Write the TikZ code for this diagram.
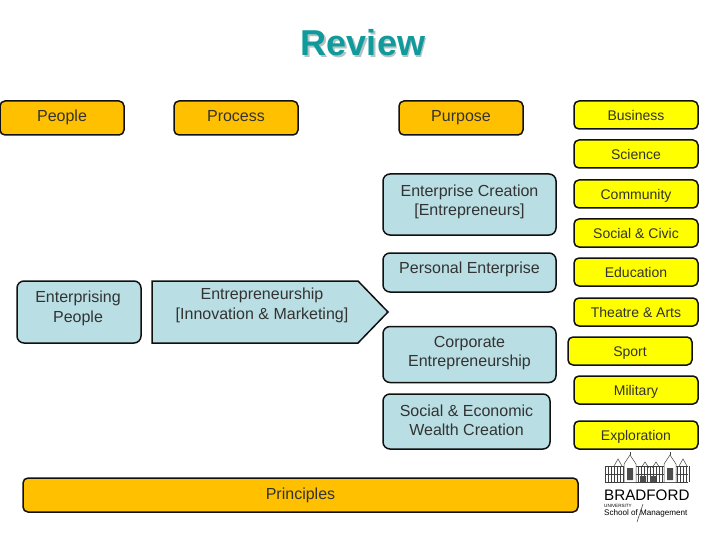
\documentclass[tikz,border=0pt]{standalone}
\usepackage{fontspec}
\setmainfont{Liberation Sans}
\definecolor{orangebox}{HTML}{FFC000}
\definecolor{yellowbox}{HTML}{FFFF00}
\definecolor{bluebox}{HTML}{B9DEE3}
\definecolor{teal}{HTML}{109A9C}
\definecolor{titleshadow}{HTML}{B4C4C4}
\definecolor{linecol}{HTML}{101010}
\tikzset{
  base/.style={draw=linecol,line width=1.5pt,rounded corners=5pt,inner sep=0pt,align=center,text=black!80,anchor=center},
  orangeb/.style={base,fill=orangebox,font=\fontsize{16}{19}\selectfont,minimum width=124pt,minimum height=34pt,text height=12pt,text depth=4pt},
  yellowb/.style={base,fill=yellowbox,font=\fontsize{14}{17}\selectfont,minimum width=124pt,minimum height=28pt,text height=11.5pt,text depth=0.5pt},
  blueb/.style={base,fill=bluebox,rounded corners=7pt,minimum width=173pt},
  arrowb/.style={draw=linecol,line width=1.5pt,fill=bluebox,line join=miter},
  plain/.style={inner sep=0pt,align=center,text=black!80,font=\fontsize{16}{20}\selectfont},
  plainb/.style={plain,font=\fontsize{16}{19}\selectfont},
  logoline/.style={draw=black!75,line width=0.5pt},
  logotext/.style={inner sep=0pt,anchor=west,text=black}
}
\begin{document}
\begin{tikzpicture}[x=1pt,y=-1pt]
\useasboundingbox (0,0) rectangle (720,540);
\node[inner sep=0pt,font=\bfseries\fontsize{36}{40}\selectfont,text=titleshadow] (titleb) at (364.5,44.5) {Review};
\node[inner sep=0pt,font=\bfseries\fontsize{36}{40}\selectfont,text=teal] (title) at (363,43) {Review};

\node[orangeb] (people) at (62,118) {People};
\node[orangeb] (process) at (236,118) {Process};
\node[orangeb] (purpose) at (461,118) {Purpose};

\node[yellowb] (business) at (636,115) {Business};
\node[yellowb] (science) at (636,154) {Science};
\node[yellowb] (community) at (636,194) {Community};
\node[yellowb] (social) at (636,233) {Social \& Civic};
\node[yellowb] (education) at (636,272) {Education};
\node[yellowb] (theatre) at (636,312) {Theatre \& Arts};
\node[yellowb] (sport) at (630,351) {Sport};
\node[yellowb] (military) at (636,390) {Military};
\node[yellowb] (exploration) at (636,435) {Exploration};

\node[blueb,minimum height=61pt] (creation) at (469.5,204.5) {};
\node[plainb] (creationt) at (469.5,202) {Enterprise Creation\\{}[Entrepreneurs]};
\node[blueb,minimum height=39pt] (personal) at (469.5,272.5) {};
\node[plainb] (personalt) at (469.5,269) {Personal Enterprise};
\node[blueb,minimum height=56pt] (corporate) at (469.5,354.5) {};
\node[plainb] (corporatet) at (469.5,353) {Corporate\\Entrepreneurship};
\node[blueb,minimum width=167pt,minimum height=55pt] (wealth) at (466.5,421.5) {};
\node[plainb] (wealtht) at (466.5,420) {Social \& Economic\\Wealth Creation};

\node[blueb,minimum width=124pt,minimum height=62pt] (enterprising) at (79,312) {};
\node[plain] (enterprisingt) at (78,308.5) {Enterprising\\People};

\coordinate (a1) at (152,281);
\coordinate (a2) at (358,281);
\coordinate (a3) at (388,312);
\coordinate (a4) at (358,343);
\coordinate (a5) at (152,343);
\draw[arrowb] (a1) -- (a2) -- (a3) -- (a4) -- (a5) -- cycle;
\node[plain] (arrowt) at (262,305) {Entrepreneurship\\{}[Innovation \& Marketing]};

\node[orangeb,minimum width=555pt] (principles) at (300.5,495) {Principles};

% logo
\begin{scope}
\draw[logoline] (605,466) -- (688,466) (605,482) -- (688,482) (605,474) -- (688,474);
\foreach \xa in {605,608,...,689} {\draw[logoline] (\xa,466) -- (\xa,482);}
\draw[logoline,fill=white] (624,482) -- (624,464) -- (630,455) -- (636,464) -- (636,482);
\draw[logoline,fill=white] (664,482) -- (664,464) -- (670,455) -- (676,464) -- (676,482);
\draw[logoline] (614,466) -- (618,459) -- (622,466) (641,468) -- (645,462) -- (649,468) (652,468) -- (656,462) -- (660,468) (679,466) -- (683,459) -- (687,466);
\draw[logoline] (630,455) -- (630,452) (670,455) -- (670,452);
\fill[black!70] (627,468) rectangle (633,480) (667,468) rectangle (673,480) (640,476) rectangle (646,482) (650,476) rectangle (656,482);
\end{scope}
\node[logotext,font=\fontsize{15.2}{16}\selectfont] (brad) at (604,495.5) {BRADFORD};
\node[logotext,font=\fontsize{4.6}{5}\selectfont] (univ) at (604,505.5) {UNIVERSITY};
\node[logotext,font=\fontsize{8.1}{9}\selectfont] (school) at (604,513) {School of Management};
\draw[logoline] (643,504) -- (637,522);
\end{tikzpicture}
\end{document}
